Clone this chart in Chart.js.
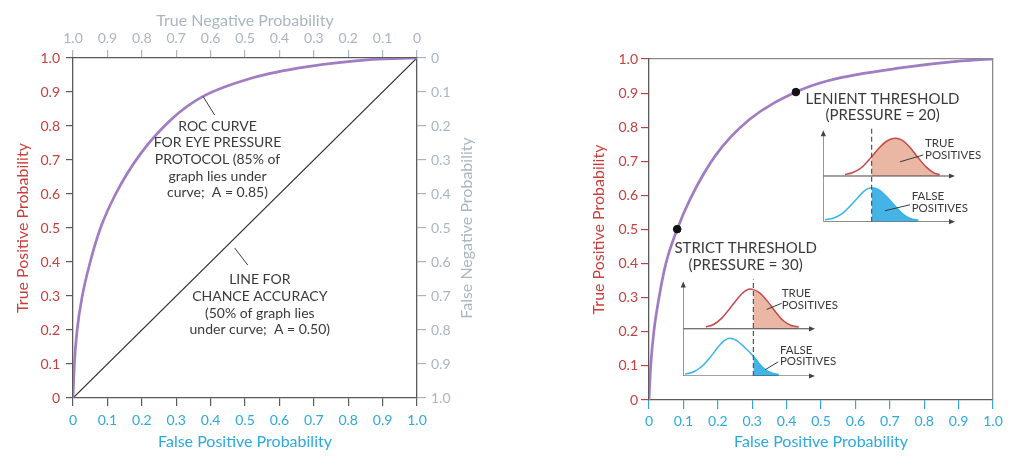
<!DOCTYPE html>
<html>
<head>
<meta charset="utf-8">
<script src="https://cdn.jsdelivr.net/npm/chart.js@4.4.1/dist/chart.umd.min.js"></script>
<style>
  html, body { margin: 0; padding: 0; background: #fff; }
  #wrap { position: relative; width: 1024px; height: 466px; overflow: hidden; }
  canvas { position: absolute; }
</style>
</head>
<body>
<div id="wrap">
  <canvas id="left" width="512" height="466" style="left:0;top:0"></canvas>
  <canvas id="right" width="512" height="466" style="left:512px;top:0"></canvas>
  <canvas id="lenient" width="170" height="104" style="left:815px;top:124px"></canvas>
  <canvas id="strict" width="170" height="108" style="left:675px;top:275px"></canvas>
</div>
<script>
// axis ticks
const TICK_VALUES = [0, 0.1, 0.2, 0.3, 0.4, 0.5, 0.6, 0.7, 0.8, 0.9, 1];
const TICK_LABELS = ['0', '0.1', '0.2', '0.3', '0.4', '0.5', '0.6', '0.7', '0.8', '0.9', '1.0'];

// left panel: ROC curve + chance line
const ROC_A_FPR = [0, 0.004, 0.012, 0.027, 0.05, 0.08, 0.124, 0.194, 0.291, 0.378, 0.523, 0.678, 0.872, 1.0];
const ROC_A_TPR = [0, 0.10, 0.20, 0.30, 0.40, 0.50, 0.60, 0.715, 0.824, 0.887, 0.942, 0.974, 0.996, 1.0];
const CHANCE_FPR = [0, 1];
const CHANCE_TPR = [0, 1];

// right panel: ROC curve + the two thresholds
const ROC_B_FPR = [0, 0.005, 0.014, 0.029, 0.049, 0.082, 0.12, 0.194, 0.291, 0.427, 0.523, 0.748, 0.894, 1.0];
const ROC_B_TPR = [0, 0.10, 0.20, 0.30, 0.40, 0.501, 0.59, 0.718, 0.822, 0.903, 0.937, 0.976, 0.993, 1.0];
const THRESH_FPR = [0.082, 0.427];
const THRESH_TPR = [0.501, 0.903];

// insets (x: pressure axis 0-100, y: top panel sits on 1, bottom on 0)
const LENIENT_CUT = 36.7;
const LENIENT_TRUE_X = [16.5, 22, 28, 33, 36.7, 42, 48, 54.4, 60, 66, 72, 78, 84, 88.3];
const LENIENT_TRUE_Y = [1.03, 1.07, 1.16, 1.30, 1.42, 1.60, 1.76, 1.825, 1.78, 1.62, 1.40, 1.20, 1.07, 1.03];
const LENIENT_FALSE_X = [1.3, 8, 14, 20, 26, 31, 36.7, 42, 48, 54, 60, 66, 72.2];
const LENIENT_FALSE_Y = [0.04, 0.08, 0.17, 0.33, 0.52, 0.67, 0.744, 0.70, 0.55, 0.36, 0.18, 0.07, 0.03];

const STRICT_CUT = 53.2;
const STRICT_TRUE_X = [17.2, 23, 29, 35, 41, 46, 50.4, 53.2, 58, 64, 70, 76, 82, 87.6];
const STRICT_TRUE_Y = [1.04, 1.09, 1.22, 1.42, 1.63, 1.78, 1.84, 1.83, 1.76, 1.58, 1.36, 1.17, 1.07, 1.04];
const STRICT_FALSE_X = [1.3, 8, 14, 20, 26, 31, 35.1, 40, 46, 53.2, 58, 63, 68, 72.5];
const STRICT_FALSE_Y = [0.04, 0.09, 0.20, 0.38, 0.60, 0.75, 0.80, 0.76, 0.62, 0.42, 0.25, 0.12, 0.06, 0.03];

const FONT = 'Lato, "Open Sans", sans-serif';
const RED = '#c8403d', BLUE = '#2ea9df', GREY = '#a9b6c0', INK = '#3a3a3a', FRAME = '#5a5a5a';
const PURPLE = '#a07cc2';

const pts = (xs, ys) => xs.map((x, i) => ({ x: x, y: ys[i] }));

function axis(pos, o) {
  return {
    type: 'linear', axis: o.axis, position: pos, min: 0, max: 1, reverse: !!o.reverse,
    afterFit: s => { if (s.isHorizontal()) s.height = o.size; else s.width = o.size; },
    afterBuildTicks: s => { s.ticks = TICK_VALUES.map(v => ({ value: v })); },
    border: { display: true, color: o.border || FRAME, width: 1.3 },
    grid: { display: o.ticks !== false, drawOnChartArea: false, drawTicks: true,
            tickLength: o.tickLength || 8, color: o.tickColor, lineWidth: 1.2 },
    ticks: { display: o.ticks !== false, color: o.color, padding: o.padding || 4, autoSkip: false,
             maxRotation: 0, font: { family: FONT, size: 14 },
             callback: v => TICK_LABELS[TICK_VALUES.indexOf(v)] },
    title: o.title ? { display: true, text: o.title, color: o.color,
                       font: { family: FONT, size: 16 }, padding: o.titlePad } : { display: false }
  };
}

// text + leader lines in data coordinates
function notes(id, cfg) {
  return {
    id: id,
    afterDatasetsDraw(chart) {
      const ctx = chart.ctx, xs = chart.scales[cfg.x || 'x'], ys = chart.scales[cfg.y || 'y'];
      ctx.save();
      ctx.strokeStyle = INK; ctx.lineWidth = 1;
      (cfg.pointers || []).forEach(p => {
        ctx.beginPath();
        ctx.moveTo(xs.getPixelForValue(p[0]), ys.getPixelForValue(p[1]));
        ctx.lineTo(xs.getPixelForValue(p[2]), ys.getPixelForValue(p[3]));
        ctx.stroke();
      });
      ctx.fillStyle = INK; ctx.textBaseline = 'middle';
      (cfg.texts || []).forEach(t => {
        ctx.font = t.size + 'px ' + FONT;
        ctx.textAlign = t.align || 'center';
        const x = xs.getPixelForValue(t.x), y = ys.getPixelForValue(t.y);
        t.lines.forEach((ln, i) => ctx.fillText(ln, x, y + i * t.lh));
      });
      ctx.restore();
    }
  };
}

// right-hand title of the left panel reads bottom to top
const sideTitle = {
  id: 'sideTitle',
  afterDraw(chart) {
    const ctx = chart.ctx, a = chart.chartArea;
    ctx.save();
    ctx.translate(467, (a.top + a.bottom) / 2);
    ctx.rotate(-Math.PI / 2);
    ctx.font = '16px ' + FONT; ctx.fillStyle = GREY;
    ctx.textAlign = 'center'; ctx.textBaseline = 'middle';
    ctx.fillText('False Negative Probability', 0, 0);
    ctx.restore();
  }
};

const base = {
  responsive: false, animation: false,
  layout: { padding: 0 },
  plugins: { legend: { display: false }, tooltip: { enabled: false } }
};

new Chart(document.getElementById('left'), {
  type: 'line',
  data: {
    datasets: [
      { data: pts(ROC_A_FPR, ROC_A_TPR), borderColor: PURPLE, borderWidth: 2.7, pointRadius: 0,
        cubicInterpolationMode: 'monotone' },
      { data: pts(CHANCE_FPR, CHANCE_TPR), borderColor: '#2a2a2a', borderWidth: 1.2, pointRadius: 0 }
    ]
  },
  options: Object.assign({}, base, {
    scales: {
      x: axis('bottom', { axis: 'x', size: 68, color: BLUE, tickColor: FRAME, tickLength: 8, padding: 6,
                          title: 'False Positive Probability', titlePad: { top: 0, bottom: 15 } }),
      xTop: axis('top', { axis: 'x', size: 58, reverse: true, color: GREY, tickColor: GREY, tickLength: 8,
                          padding: 3, title: 'True Negative Probability', titlePad: { top: 11, bottom: 0 } }),
      y: axis('left', { axis: 'y', size: 73, color: RED, tickColor: FRAME, tickLength: 7, padding: 6,
                        title: 'True Positive Probability', titlePad: { top: 13, bottom: 0 } }),
      yRight: axis('right', { axis: 'y', size: 95, reverse: true, color: GREY, tickColor: GREY,
                              tickLength: 9, padding: 5 })
    }
  }),
  plugins: [sideTitle, notes('leftNotes', {
    pointers: [[0.378, 0.887, 0.412, 0.832], [0.47, 0.441, 0.508, 0.391]],
    texts: [
      { x: 0.42, y: 0.80, size: 14, lh: 16.7,
        lines: ['ROC CURVE', 'FOR EYE PRESSURE', 'PROTOCOL (85% of', 'graph lies under', 'curve;  A = 0.85)'] },
      { x: 0.543, y: 0.348, size: 14, lh: 16.7,
        lines: ['LINE FOR', 'CHANCE ACCURACY', '(50% of graph lies', 'under curve;  A = 0.50)'] }
    ]
  })]
});

new Chart(document.getElementById('right'), {
  type: 'line',
  data: {
    datasets: [
      { data: pts(THRESH_FPR, THRESH_TPR), showLine: false, pointRadius: 3.8,
        pointBackgroundColor: '#111', pointBorderColor: '#111' },
      { data: pts(ROC_B_FPR, ROC_B_TPR), borderColor: PURPLE, borderWidth: 2.7, pointRadius: 0,
        cubicInterpolationMode: 'monotone' }
    ]
  },
  options: Object.assign({}, base, {
    scales: {
      x: axis('bottom', { axis: 'x', size: 66, color: BLUE, tickColor: BLUE, tickLength: 9, padding: 4,
                          title: 'False Positive Probability', titlePad: { top: 0, bottom: 15 } }),
      xTop: axis('top', { axis: 'x', size: 59, ticks: false, border: '#8a8a8a' }),
      y: axis('left', { axis: 'y', size: 137, color: RED, tickColor: RED, tickLength: 8, padding: 3,
                        title: 'True Positive Probability', titlePad: { top: 77, bottom: 0 } }),
      yRight: axis('right', { axis: 'y', size: 31, ticks: false, border: '#8a8a8a' })
    }
  }),
  plugins: [notes('rightNotes', {
    texts: [
      { x: 0.679, y: 0.882, size: 15, lh: 15.7, lines: ['LENIENT THRESHOLD', '(PRESSURE = 20)'] },
      { x: 0.281, y: 0.445, size: 15, lh: 16.7, lines: ['STRICT THRESHOLD', '(PRESSURE = 30)'] }
    ]
  })]
});

// small arrowheads on the inset axes
const arrows = {
  id: 'arrows',
  afterDatasetsDraw(chart) {
    const ctx = chart.ctx, xs = chart.scales.x, ys = chart.scales.y;
    const head = (x, y, dx, dy) => {
      ctx.beginPath();
      ctx.moveTo(x, y);
      ctx.lineTo(x - dx * 6 - dy * 2.6, y - dy * 6 - dx * 2.6);
      ctx.lineTo(x - dx * 6 + dy * 2.6, y - dy * 6 + dx * 2.6);
      ctx.closePath(); ctx.fill();
    };
    ctx.save(); ctx.fillStyle = '#444';
    head(xs.getPixelForValue(0), ys.getPixelForValue(2), 0, -1);
    head(xs.getPixelForValue(100), ys.getPixelForValue(1), 1, 0);
    head(xs.getPixelForValue(100), ys.getPixelForValue(0), 1, 0);
    ctx.restore();
  }
};

function inset(id, pad, cut, tx, ty, fx, fy, cfg) {
  const axisLine = d => ({ data: d, borderColor: '#444', borderWidth: 1, pointRadius: 0 });
  new Chart(document.getElementById(id), {
    type: 'line',
    data: {
      datasets: [
        axisLine([{ x: 0, y: 0 }, { x: 0, y: 1.96 }]),
        axisLine([{ x: 0, y: 1 }, { x: 97, y: 1 }]),
        axisLine([{ x: 0, y: 0 }, { x: 97, y: 0 }]),
        { data: [{ x: cut, y: 0 }, { x: cut, y: 2.05 }], borderColor: '#555', borderWidth: 1.2,
          borderDash: [5, 3], pointRadius: 0 },
        { data: pts(tx, ty), borderColor: '#c9494a', borderWidth: 1.5, pointRadius: 0,
          cubicInterpolationMode: 'monotone', fill: { target: { value: 1 } }, backgroundColor: 'transparent',
          segment: { backgroundColor: c => c.p0.parsed.x >= cut ? '#e9b7a3' : 'transparent' } },
        { data: pts(fx, fy), borderColor: '#33b6e8', borderWidth: 1.5, pointRadius: 0,
          cubicInterpolationMode: 'monotone', fill: 'origin', backgroundColor: 'transparent',
          segment: { backgroundColor: c => c.p0.parsed.x >= cut ? '#45b3e6' : 'transparent' } }
      ]
    },
    options: Object.assign({}, base, {
      layout: { padding: pad },
      scales: {
        x: { type: 'linear', display: false, min: 0, max: 100 },
        y: { type: 'linear', display: false, min: 0, max: 2.05 }
      }
    }),
    plugins: [arrows, notes(id + 'Notes', cfg)]
  });
}

inset('lenient', { left: 8.3, right: 30, top: 4, bottom: 6.3 }, LENIENT_CUT,
  LENIENT_TRUE_X, LENIENT_TRUE_Y, LENIENT_FALSE_X, LENIENT_FALSE_Y, {
    pointers: [[58.2, 1.31, 75.9, 1.46], [46.8, 0.24, 65.8, 0.37]],
    texts: [
      { x: 77.2, y: 1.72, size: 11.5, lh: 12, align: 'left', lines: ['TRUE', 'POSITIVES'] },
      { x: 67.1, y: 0.56, size: 11.5, lh: 12.3, align: 'left', lines: ['FALSE', 'POSITIVES'] }
    ]
  });

inset('strict', { left: 8.3, right: 30, top: 4.2, bottom: 7 }, STRICT_CUT,
  STRICT_TRUE_X, STRICT_TRUE_Y, STRICT_FALSE_X, STRICT_FALSE_Y, {
    pointers: [[63.3, 1.41, 74.7, 1.54], [62, 0.13, 72.1, 0.30]],
    texts: [
      { x: 74.7, y: 1.76, size: 11.5, lh: 12, align: 'left', lines: ['TRUE', 'POSITIVES'] },
      { x: 73.4, y: 0.55, size: 11.5, lh: 11.7, align: 'left', lines: ['FALSE', 'POSITIVES'] }
    ]
  });
</script>
</body>
</html>
